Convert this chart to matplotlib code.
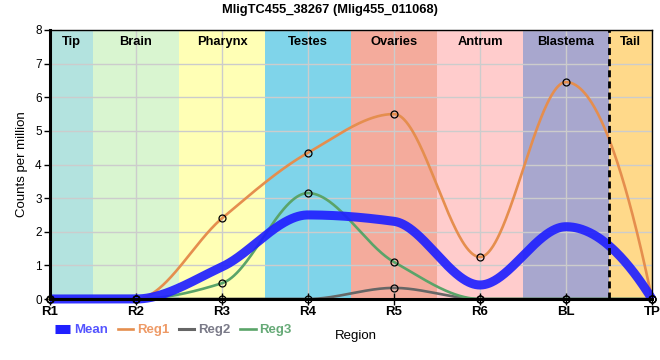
import numpy as np
import matplotlib
matplotlib.use("Agg")
import matplotlib.pyplot as plt
from matplotlib.lines import Line2D

plt.rcParams['font.family'] = ['Liberation Sans', 'DejaVu Sans']

title = "MligTC455_38267 (Mlig455_011068)"
regions = ["R1", "R2", "R3", "R4", "R5", "R6", "BL", "TP"]
reg1 = [0, 0, 2.4, 4.35, 5.5, 1.25, 6.45, 0]
reg2 = [0, 0, 0, 0, 0.33, 0, 0, 0]
reg3 = [0, 0, 0.47, 3.15, 1.1, 0, 0, 0]
mean = list(np.mean([reg1, reg2, reg3], axis=0))
band_names = ["Tip", "Brain", "Pharynx", "Testes", "Ovaries", "Antrum", "Blastema", "Tail"]
band_colors = ["#b3e3df", "#d9f5d0", "#ffffb5", "#7fd4ea", "#f4ab9c", "#ffcccc", "#a8a7ce", "#ffd98a"]


def pchip(x, y, xs):
    x = np.asarray(x, float); y = np.asarray(y, float)
    h = np.diff(x); delta = np.diff(y) / h
    n = len(x); d = np.zeros(n)
    for k in range(1, n - 1):
        if delta[k - 1] * delta[k] > 0:
            w1 = 2 * h[k] + h[k - 1]; w2 = h[k] + 2 * h[k - 1]
            d[k] = (w1 + w2) / (w1 / delta[k - 1] + w2 / delta[k])
    def endslope(h0, h1, del0, del1):
        dd = ((2 * h0 + h1) * del0 - h0 * del1) / (h0 + h1)
        if np.sign(dd) != np.sign(del0):
            dd = 0
        elif np.sign(del0) != np.sign(del1) and abs(dd) > abs(3 * del0):
            dd = 3 * del0
        return dd
    d[0] = endslope(h[0], h[1], delta[0], delta[1])
    d[-1] = endslope(h[-1], h[-2], delta[-1], delta[-2])
    idx = np.clip(np.searchsorted(x, xs) - 1, 0, n - 2)
    t = (xs - x[idx]) / h[idx]
    h00 = 2 * t**3 - 3 * t**2 + 1; h10 = t**3 - 2 * t**2 + t
    h01 = -2 * t**3 + 3 * t**2; h11 = t**3 - t**2
    return h00 * y[idx] + h10 * h[idx] * d[idx] + h01 * y[idx + 1] + h11 * h[idx] * d[idx + 1]


fig = plt.figure(figsize=(6.6, 3.6), dpi=100)
ax = fig.add_axes([50/660, 1 - 299/360, 602/660, 269/360])
xpos = np.arange(len(regions))
xs = np.linspace(0, len(regions) - 1, 800)

for i, (nm, c) in enumerate(zip(band_names, band_colors)):
    ax.axvspan(i - 0.5, i + 0.5, color=c, lw=0, zorder=0)
    cx = (max(i - 0.5, 0) + min(i + 0.5, 7)) / 2
    ax.text(cx, 7.65, nm, ha='center', va='center', fontsize=9.3, fontweight='bold', zorder=6)

ax.grid(True, color='#cccccc', lw=1, zorder=1)
ax.set_axisbelow(True)

c1, c2, c3, cm = '#e58e4e', '#666666', '#5aa469', '#2020ff'
for data, c in [(reg2, c2), (reg3, c3), (reg1, c1)]:
    ax.plot(xs, pchip(xpos, data, xs), color=c, lw=1.9, zorder=3, clip_on=False)
ax.plot(xs, pchip(xpos, mean, xs), color=cm, lw=6.5, alpha=0.92, zorder=4, clip_on=False,
        solid_capstyle='butt')
for data in [reg1, reg2, reg3]:
    ax.plot(xpos, data, 'o', ms=5, mfc='none', mec='black', mew=0.9, zorder=5, clip_on=False)

ax.axvline(6.5, color='black', lw=2, ls=(0, (2.5, 1.5)), zorder=5)

ax.set_xlim(0, 7)
ax.set_ylim(0, 8)
ax.set_xticks(xpos)
ax.set_xticklabels(regions, fontsize=9.5, fontweight='bold')
ax.set_yticks(range(0, 9))
ax.tick_params(axis='y', labelsize=8.5, length=4, width=1, pad=2)
ax.tick_params(axis='x', direction='inout', length=8, width=1, pad=1)
for s in ['left', 'bottom']:
    ax.spines[s].set_linewidth(2.2)
for s in ['top', 'right']:
    ax.spines[s].set_linewidth(1)
for s in ax.spines.values():
    s.set_zorder(7)

ax.set_ylabel('Counts per million', fontsize=9.5, labelpad=5)
ax.set_xlabel('Region', fontsize=9.5)
ax.xaxis.set_label_coords(0.508, -0.115)
fig.text(0.5, 1 - 10/360, title, ha='center', va='center', fontsize=9.3, fontweight='bold')

handles = [Line2D([], [], color=cm, lw=6.5, solid_capstyle='butt'),
           Line2D([], [], color=c1, lw=1.9),
           Line2D([], [], color=c2, lw=2.2),
           Line2D([], [], color=c3, lw=1.9)]
leg = fig.legend(handles, ['Mean', 'Reg1', 'Reg2', 'Reg3'], loc='center left',
                 bbox_to_anchor=(55/660, 1 - 330/360), ncol=4, frameon=False,
                 fontsize=9.5, handlelength=1.15, handletextpad=0.3, columnspacing=0.75,
                 borderpad=0, borderaxespad=0)
for t, c in zip(leg.get_texts(), ['#5555ff', '#ee9a66', '#7a7a88', '#66aa77']):
    t.set_color(c)
    t.set_fontweight('bold')

fig.savefig('out.png', dpi=100)
